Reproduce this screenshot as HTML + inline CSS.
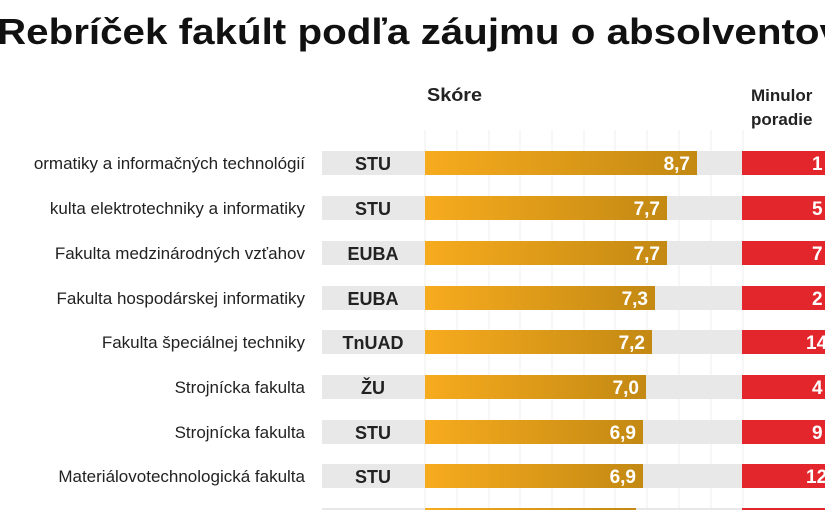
<!DOCTYPE html>
<html><head><meta charset="utf-8"><style>
body{margin:0;background:#fff;width:825px;height:510px;overflow:hidden}
svg{display:block;font-family:"Liberation Sans",sans-serif}
</style></head><body>
<svg width="825" height="510" viewBox="0 0 825 510">
<defs><linearGradient id="g" x1="0" x2="1" y1="0" y2="0"><stop offset="0" stop-color="#f7ab1e"/><stop offset="1" stop-color="#c38913"/></linearGradient></defs>
<text x="-3" y="44" font-size="36" font-weight="bold" fill="#111" textLength="845" lengthAdjust="spacingAndGlyphs">Rebríček fakúlt podľa záujmu o absolventov</text>
<text x="427" y="101" font-size="18" font-weight="bold" fill="#222" textLength="55" lengthAdjust="spacingAndGlyphs">Skóre</text>
<text x="751" y="101" font-size="17" font-weight="bold" fill="#222">Minulor</text>
<text x="751" y="125" font-size="17" font-weight="bold" fill="#222">poradie</text>
<g stroke="#efefef" stroke-width="1">
<line x1="425" y1="130" x2="425" y2="510"/><line x1="457" y1="130" x2="457" y2="510"/><line x1="489" y1="130" x2="489" y2="510"/><line x1="520" y1="130" x2="520" y2="510"/><line x1="552" y1="130" x2="552" y2="510"/><line x1="584" y1="130" x2="584" y2="510"/><line x1="615" y1="130" x2="615" y2="510"/><line x1="647" y1="130" x2="647" y2="510"/><line x1="679" y1="130" x2="679" y2="510"/><line x1="711" y1="130" x2="711" y2="510"/><line x1="743" y1="130" x2="743" y2="510"/>
</g>
<g font-size="17" fill="#222">
<g transform="translate(0,151)">
<rect x="322" y="0" width="421" height="24" fill="#e8e8e8"/><rect x="425" y="0" width="272" height="24" fill="url(#g)"/><rect x="742" y="0" width="90" height="24" fill="#e3262b"/>
<text x="305" y="18" text-anchor="end">ormatiky a informačných technológií</text><text x="373" y="19" text-anchor="middle" font-weight="bold" font-size="18">STU</text><text x="690" y="19" text-anchor="end" font-weight="bold" font-size="19" fill="#fff">8,7</text><text x="812" y="19" font-weight="bold" font-size="19" fill="#fff">1</text></g>
<g transform="translate(0,196)">
<rect x="322" y="0" width="421" height="24" fill="#e8e8e8"/><rect x="425" y="0" width="242" height="24" fill="url(#g)"/><rect x="742" y="0" width="90" height="24" fill="#e3262b"/>
<text x="305" y="18" text-anchor="end">kulta elektrotechniky a informatiky</text><text x="373" y="19" text-anchor="middle" font-weight="bold" font-size="18">STU</text><text x="660" y="19" text-anchor="end" font-weight="bold" font-size="19" fill="#fff">7,7</text><text x="812" y="19" font-weight="bold" font-size="19" fill="#fff">5</text></g>
<g transform="translate(0,241)">
<rect x="322" y="0" width="421" height="24" fill="#e8e8e8"/><rect x="425" y="0" width="242" height="24" fill="url(#g)"/><rect x="742" y="0" width="90" height="24" fill="#e3262b"/>
<text x="305" y="18" text-anchor="end">Fakulta medzinárodných vzťahov</text><text x="373" y="19" text-anchor="middle" font-weight="bold" font-size="18">EUBA</text><text x="660" y="19" text-anchor="end" font-weight="bold" font-size="19" fill="#fff">7,7</text><text x="812" y="19" font-weight="bold" font-size="19" fill="#fff">7</text></g>
<g transform="translate(0,286)">
<rect x="322" y="0" width="421" height="24" fill="#e8e8e8"/><rect x="425" y="0" width="230" height="24" fill="url(#g)"/><rect x="742" y="0" width="90" height="24" fill="#e3262b"/>
<text x="305" y="18" text-anchor="end">Fakulta hospodárskej informatiky</text><text x="373" y="19" text-anchor="middle" font-weight="bold" font-size="18">EUBA</text><text x="648" y="19" text-anchor="end" font-weight="bold" font-size="19" fill="#fff">7,3</text><text x="812" y="19" font-weight="bold" font-size="19" fill="#fff">2</text></g>
<g transform="translate(0,330)">
<rect x="322" y="0" width="421" height="24" fill="#e8e8e8"/><rect x="425" y="0" width="227" height="24" fill="url(#g)"/><rect x="742" y="0" width="90" height="24" fill="#e3262b"/>
<text x="305" y="18" text-anchor="end">Fakulta špeciálnej techniky</text><text x="373" y="19" text-anchor="middle" font-weight="bold" font-size="18">TnUAD</text><text x="645" y="19" text-anchor="end" font-weight="bold" font-size="19" fill="#fff">7,2</text><text x="806" y="19" font-weight="bold" font-size="19" fill="#fff">14</text></g>
<g transform="translate(0,375)">
<rect x="322" y="0" width="421" height="24" fill="#e8e8e8"/><rect x="425" y="0" width="221" height="24" fill="url(#g)"/><rect x="742" y="0" width="90" height="24" fill="#e3262b"/>
<text x="305" y="18" text-anchor="end">Strojnícka fakulta</text><text x="373" y="19" text-anchor="middle" font-weight="bold" font-size="18">ŽU</text><text x="639" y="19" text-anchor="end" font-weight="bold" font-size="19" fill="#fff">7,0</text><text x="812" y="19" font-weight="bold" font-size="19" fill="#fff">4</text></g>
<g transform="translate(0,420)">
<rect x="322" y="0" width="421" height="24" fill="#e8e8e8"/><rect x="425" y="0" width="218" height="24" fill="url(#g)"/><rect x="742" y="0" width="90" height="24" fill="#e3262b"/>
<text x="305" y="18" text-anchor="end">Strojnícka fakulta</text><text x="373" y="19" text-anchor="middle" font-weight="bold" font-size="18">STU</text><text x="636" y="19" text-anchor="end" font-weight="bold" font-size="19" fill="#fff">6,9</text><text x="812" y="19" font-weight="bold" font-size="19" fill="#fff">9</text></g>
<g transform="translate(0,464)">
<rect x="322" y="0" width="421" height="24" fill="#e8e8e8"/><rect x="425" y="0" width="218" height="24" fill="url(#g)"/><rect x="742" y="0" width="90" height="24" fill="#e3262b"/>
<text x="305" y="18" text-anchor="end">Materiálovotechnologická fakulta</text><text x="373" y="19" text-anchor="middle" font-weight="bold" font-size="18">STU</text><text x="636" y="19" text-anchor="end" font-weight="bold" font-size="19" fill="#fff">6,9</text><text x="806" y="19" font-weight="bold" font-size="19" fill="#fff">12</text></g>
<g transform="translate(0,508)">
<rect x="322" y="0" width="421" height="24" fill="#e8e8e8"/><rect x="425" y="0" width="211" height="24" fill="url(#g)"/><rect x="742" y="0" width="90" height="24" fill="#e3262b"/></g>
</g>
</svg>
</body></html>
